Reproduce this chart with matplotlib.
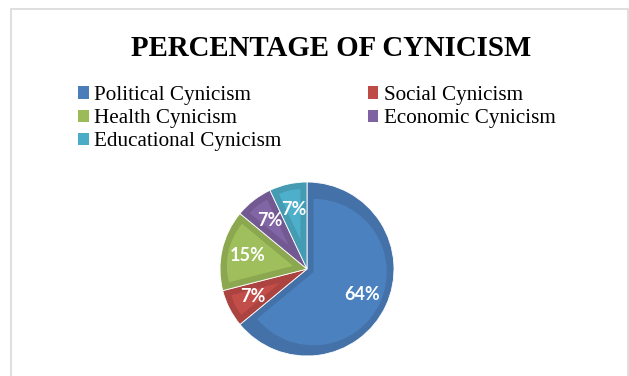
import numpy as np
import matplotlib
matplotlib.use("Agg")
import matplotlib.pyplot as plt
from matplotlib.patches import Wedge, Patch, Rectangle
from matplotlib.colors import to_rgb

plt.rcParams["font.family"] = ["Liberation Serif", "DejaVu Serif"]

# data
categories = ["Political Cynicism", "Social Cynicism", "Health Cynicism",
              "Economic Cynicism", "Educational Cynicism"]
shares = [64, 7, 15, 7, 7]
colors = ["#4A7EBB", "#BE4B48", "#9BBB59", "#7F63A1", "#4BACC6"]

fig = plt.figure(figsize=(6.29, 3.76), dpi=100)
W, H = 629, 376

# grey chart border (bottom runs off the image)
fig.add_artist(Rectangle((11 / W, -0.05), 617 / W, 1.05 - 9 / H,
                         transform=fig.transFigure, fill=False,
                         edgecolor="#D9D9D9", linewidth=1.2))

fig.text(0.526, 1 - 48 / H, "PERCENTAGE OF CYNICISM", ha="center", va="center",
         fontsize=20.8, fontweight="bold")

# pie
cx, cy, r = 307, 269, 87
ax = fig.add_axes([(cx - r) / W, (H - cy - r) / H, 2 * r / W, 2 * r / H])

wedges, _, autotexts = ax.pie(shares, colors=colors, startangle=90, counterclock=False,
                              radius=1, autopct="%1.0f%%", pctdistance=0.7,
                              wedgeprops=dict(edgecolor="white", linewidth=0.6))
ax.set_xlim(-1, 1)
ax.set_ylim(-1, 1)
ax.set_aspect("equal")
ax.axis("off")

# bevel look: darker rim with lighter inset face
d = 0.075
for w, c in zip(wedges, colors):
    base = np.array(to_rgb(c))
    w.set_facecolor(base * 0.9)
    t1, t2 = w.theta1, w.theta2
    half = np.radians((t2 - t1) / 2)
    mid = np.radians((t1 + t2) / 2)
    s = d / np.sin(half)
    c0 = (s * np.cos(mid), s * np.sin(mid))
    rr = 1 - d - s
    ax.add_patch(Wedge(c0, rr, t1, t2, facecolor=np.minimum(base * 1.02, 1),
                       edgecolor="none", zorder=w.get_zorder() + 0.1))

for t in autotexts:
    t.set_color("white")
    t.set_fontsize(13)
    t.set_fontweight("bold")
    t.set_family(["Lato", "DejaVu Sans"])
    t.set_zorder(5)

# legend, filled row by row as in the original
order = [0, 2, 4, 1, 3]
handles = [Patch(facecolor=colors[i], edgecolor="none") for i in order]
labels = [categories[i] for i in order]
fig.legend(handles, labels, ncol=2, loc="upper left",
           bbox_to_anchor=(78 / W, 1 - 86 / H), frameon=False,
           fontsize=15.2, handlelength=0.5, handleheight=0.5, handletextpad=0.25,
           labelspacing=0.2, columnspacing=4.1, borderpad=0, borderaxespad=0)

fig.savefig("out.png", dpi=100)
